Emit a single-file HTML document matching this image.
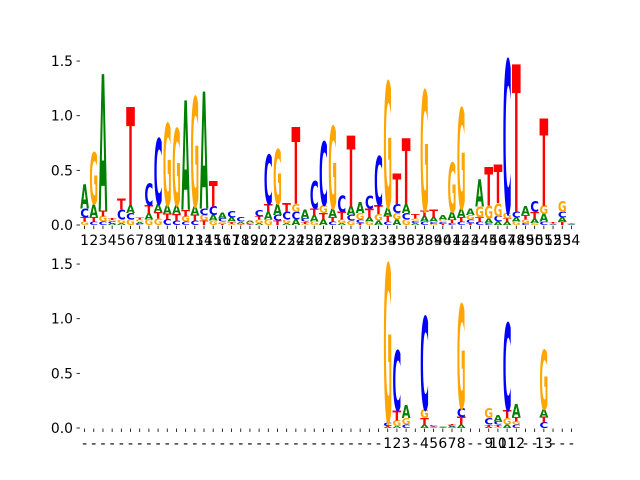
<!DOCTYPE html>
<html><head><meta charset="utf-8"><style>
html,body{margin:0;padding:0;background:#fff;}
svg{display:block;font-family:"DejaVu Sans","Liberation Sans",sans-serif;}
</style></head><body>
<svg id="chart" width="640" height="480" viewBox="0 0 640 480" xmlns="http://www.w3.org/2000/svg">
<rect width="640" height="480" fill="#fff"/>
<g id="top"></g>
<g id="bot"></g>
</svg>
<script>
// Top panel data (positions 1..54), letter heights in bits
const topA=[.22,.12,1.25,.015,.02,.07,.02,.06,.07,.08,.08,1.0,.08,1.07,.05,.05,.04,.02,.015,.02,.07,.1,.02,.05,.08,.06,.05,.08,.02,.08,.1,.04,.04,.08,.05,.08,.02,.05,.04,.04,.07,.08,.06,.25,.04,.03,.03,.04,.08,.04,.07,.005,.04,.005];
const topC=[.08,.03,.03,.015,.09,.06,.01,.2,.6,.05,.04,.03,.04,.06,.08,.03,.06,.04,.01,.06,.45,.05,.07,.07,.03,.25,.58,.03,.15,.05,.03,.12,.45,.03,.08,.06,.02,.03,.02,.02,.02,.03,.03,.03,.02,.05,1.4,.05,.02,.1,.03,.005,.05,.005];
const topG=[.03,.47,.05,.015,.03,.05,.02,.05,.06,.75,.7,.05,1.0,.05,.04,.02,.01,.005,.01,.03,.05,.5,.03,.07,.01,.03,.07,.75,.03,.04,.06,.03,.06,1.15,.06,.05,.02,1.1,.01,.02,.45,.92,.04,.1,.12,.12,.05,.03,.03,.02,.08,.005,.1,.005];
const topT=[.04,.04,.05,.02,.1,.9,.02,.07,.06,.05,.06,.06,.05,.04,.23,.01,.02,.005,.005,.03,.07,.04,.08,.7,.02,.06,.06,.04,.07,.65,.02,.08,.08,.05,.28,.6,.04,.05,.07,.01,.03,.04,.02,.04,.35,.35,.03,1.35,.04,.06,.8,.01,.03,.005];
const topLabels=["1","2","3","4","5","6","7","8","9","10","11","12","13","14","15","16","17","18","19","20","21","22","23","24","25","26","27","28","29","30","31","32","33","34","35","36","37","38","39","40","41","42","43","44","45","46","47","48","49","50","51","52","53","54"];
// Bottom panel data
const botA=[0,0,0,0,0,0,0,0,0,0,0,0,0,0,0,0,0,0,0,0,0,0,0,0,0,0,0,0,0,0,0,0,0,.01,.02,.12,0,.03,.005,.005,.01,.03,0,0,.01,.06,.03,.12,0,0,.07,0,0,0];
const botC=[0,0,0,0,0,0,0,0,0,0,0,0,0,0,0,0,0,0,0,0,0,0,0,0,0,0,0,0,0,0,0,0,0,.03,.55,.03,0,.85,.01,.003,.01,.08,0,0,.06,.03,.8,.03,0,0,.05,0,0,0];
const botG=[0,0,0,0,0,0,0,0,0,0,0,0,0,0,0,0,0,0,0,0,0,0,0,0,0,0,0,0,0,0,0,0,0,1.45,.05,.06,0,.08,.005,.003,.005,.95,0,0,.09,.01,.06,.03,0,0,.54,0,0,0];
const botT=[0,0,0,0,0,0,0,0,0,0,0,0,0,0,0,0,0,0,0,0,0,0,0,0,0,0,0,0,0,0,0,0,0,.01,.09,0,0,.06,.005,.003,.01,.07,0,0,.02,.02,.07,.04,0,0,.05,0,0,0];
const botLabels=["-","-","-","-","-","-","-","-","-","-","-","-","-","-","-","-","-","-","-","-","-","-","-","-","-","-","-","-","-","-","-","-","-","1","2","3","-","4","5","6","7","8","-","-","9","10","11","12","-","-","13","-","-","-"];
const yTicks=[0,0.5,1.0,1.5];
const yTickLabels=["0.0","0.5","1.0","1.5"];

const NS="http://www.w3.org/2000/svg";
const COLORS={A:"#008000",C:"#0000ff",G:"#ffa500",T:"#ff0000"};
const AX_L=80, AX_R=576, N=54, STEP=(AX_R-AX_L)/N, PXU=109.3;
function xScale(i){return AX_L+(i+0.5)*STEP;}
function mk(tag,attrs,parent){const e=document.createElementNS(NS,tag);for(const k in attrs)e.setAttribute(k,attrs[k]);parent.appendChild(e);return e;}

function drawPanel(g,y0,axisBottom,A,C,G,T,labels,prefix){
  const yScale=v=>y0-v*PXU;
  yTicks.forEach((v,k)=>{
    const y=yScale(v);
    const t=mk("line",{x1:76.5,x2:80,y1:y,y2:y,stroke:"#000","stroke-width":0.8},g);
    
    
    const l=mk("text",{x:73,y:y+5,"font-size":13.9,"text-anchor":"end",fill:"#000"},g);
    l.textContent=yTickLabels[k];
    
    
  });
  const W=STEP*0.95;
  for(let i=0;i<N;i++){
    const items=[["A",A[i]],["C",C[i]],["G",G[i]],["T",T[i]]].filter(d=>d[1]>0).sort((a,b)=>a[1]-b[1]);
    let base=0;
    const xl=xScale(i)-W/2;
    items.forEach(([ch,v])=>{
      const yb=yScale(base), h=v*PXU;
      const t=mk("text",{x:0,y:0,"font-size":100,"font-weight":"bold",textLength:80,lengthAdjust:"spacingAndGlyphs",fill:COLORS[ch],
        transform:`translate(${xl},${yb}) scale(${W/80},${h/72.9})`},g);
      t.textContent=ch;
      
      
      base+=v;
    });
    const tk=mk("line",{x1:xScale(i),x2:xScale(i),y1:axisBottom,y2:axisBottom+3.5,stroke:"#000","stroke-width":0.8},g);
    
    
    const lb=mk("text",{x:xScale(i),y:axisBottom+19.5,"font-size":13.9,"text-anchor":"middle",fill:"#000"},g);
    lb.textContent=labels[i];
    
    
  }
}
drawPanel(document.getElementById("top"),225,225.6,topA,topC,topG,topT,topLabels,"top");
drawPanel(document.getElementById("bot"),428,428.5,botA,botC,botG,botT,botLabels,"bottom");
</script>
</body></html>
